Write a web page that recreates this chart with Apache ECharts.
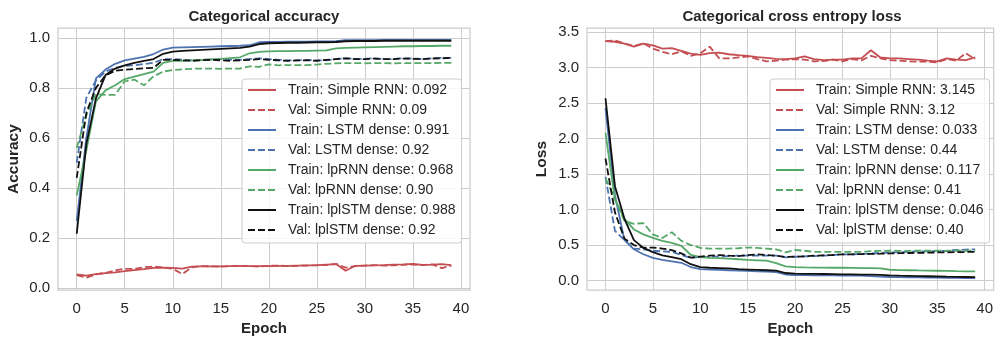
<!DOCTYPE html>
<html>
<head>
<meta charset="utf-8">
<script src="https://cdn.jsdelivr.net/npm/echarts@6/dist/echarts.min.js"></script>
<style>
  html, body { margin: 0; padding: 0; background: #fff; }
  #chart { width: 996px; height: 341px; }
</style>
</head>
<body>
<div id="chart"></div>
<script>
// epochs
var epochs = [0, 1, 2, 3, 4, 5, 6, 7, 8, 9, 10, 11, 12, 13, 14, 15, 16, 17, 18, 19,
  20, 21, 22, 23, 24, 25, 26, 27, 28, 29, 30, 31, 32, 33, 34, 35, 36, 37, 38, 39]

var xTicks = [0, 5, 10, 15, 20, 25, 30, 35, 40]
var accTicks = [0, 0.2, 0.4, 0.6, 0.8, 1.0]
var lossTicks = [0, 0.5, 1.0, 1.5, 2.0, 2.5, 3.0, 3.5]

var accNames = ['Train: Simple RNN: 0.092', 'Val: Simple RNN: 0.09', 'Train: LSTM dense: 0.991', 'Val: LSTM dense: 0.92',
  'Train: lpRNN dense: 0.968', 'Val: lpRNN dense: 0.90', 'Train: lplSTM dense: 0.988', 'Val: lplSTM dense: 0.92']
var lossNames = ['Train: Simple RNN: 3.145', 'Val: Simple RNN: 3.12', 'Train: LSTM dense: 0.033', 'Val: LSTM dense: 0.44',
  'Train: lpRNN dense: 0.117', 'Val: lpRNN dense: 0.41', 'Train: lplSTM dense: 0.046', 'Val: lplSTM dense: 0.40']

// accuracy
var trainRnnAcc = [.055, .050, .056, .060, .063, .068, .072, .076, .081, .082, .081, .078, .086, .087, .087, .087, .088, .088, .088, .088,
  .088, .089, .089, .090, .091, .092, .094, .096, .069, .089, .090, .091, .092, .094, .095, .097, .093, .094, .096, .092]
var valRnnAcc = [.052, .042, .055, .061, .071, .077, .077, .083, .086, .082, .077, .056, .083, .088, .087, .086, .088, .089, .088, .086,
  .089, .090, .088, .089, .090, .091, .092, .097, .082, .088, .090, .092, .090, .091, .093, .094, .092, .095, .080, .090]
var trainLstmAcc = [.268, .60, .838, .873, .896, .910, .917, .924, .935, .953, .961, .962, .963, .964, .965, .966, .967, .968, .970, .982,
  .983, .983, .984, .984, .984, .985, .985, .986, .990, .990, .990, .990, .991, .991, .991, .991, .991, .991, .991, .991]
var valLstmAcc = [.50, .76, .83, .865, .88, .888, .89, .895, .90, .915, .915, .912, .91, .912, .913, .915, .913, .912, .915, .918,
  .915, .912, .91, .91, .912, .91, .91, .915, .918, .916, .916, .918, .915, .915, .918, .917, .915, .918, .92, .92]
var trainLprnnAcc = [.37, .55, .746, .79, .81, .835, .845, .855, .865, .900, .908, .908, .910, .912, .914, .916, .919, .922, .938, .944,
  .946, .947, .947, .948, .948, .949, .950, .958, .960, .961, .962, .963, .964, .965, .966, .966, .967, .967, .968, .968]
var valLprnnAcc = [.56, .69, .775, .772, .772, .826, .833, .81, .846, .865, .871, .874, .876, .877, .877, .876, .877, .877, .886, .884,
  .894, .890, .891, .891, .891, .893, .896, .898, .899, .899, .898, .899, .899, .898, .899, .899, .899, .899, .900, .900]
var trainLplstmAcc = [.217, .575, .758, .851, .877, .890, .900, .908, .915, .936, .945, .948, .950, .952, .954, .956, .958, .960, .965, .975,
  .978, .979, .980, .980, .981, .982, .982, .983, .986, .987, .987, .987, .988, .988, .988, .988, .988, .988, .988, .988]
var valLplstmAcc = [.44, .70, .80, .85, .868, .872, .875, .878, .88, .912, .912, .91, .908, .91, .912, .91, .908, .91, .912, .915,
  .912, .91, .908, .91, .91, .908, .912, .915, .918, .915, .915, .917, .915, .915, .917, .916, .915, .917, .918, .92]

// loss
var trainRnnLoss = [3.375, 3.366, 3.34, 3.296, 3.34, 3.315, 3.27, 3.275, 3.237, 3.20, 3.18, 3.205, 3.214, 3.19, 3.177, 3.168, 3.15, 3.14, 3.126, 3.122,
  3.131, 3.159, 3.122, 3.108, 3.113, 3.113, 3.131, 3.131, 3.246, 3.145, 3.131, 3.131, 3.122, 3.113, 3.099, 3.09, 3.131, 3.113, 3.108, 3.145]
var valRnnLoss = [3.375, 3.384, 3.343, 3.306, 3.343, 3.269, 3.223, 3.191, 3.232, 3.168, 3.204, 3.297, 3.131, 3.131, 3.145, 3.159, 3.122, 3.090, 3.099, 3.113,
  3.122, 3.113, 3.090, 3.094, 3.113, 3.090, 3.122, 3.104, 3.168, 3.131, 3.108, 3.099, 3.090, 3.085, 3.085, 3.076, 3.122, 3.099, 3.204, 3.122]
var trainLstmLoss = [2.43, 1.20, 0.57, 0.44, 0.37, 0.32, 0.29, 0.27, 0.25, 0.19, 0.16, 0.155, 0.15, 0.145, 0.14, 0.135, 0.13, 0.125, 0.12, 0.085,
  0.078, 0.076, 0.074, 0.073, 0.072, 0.071, 0.07, 0.068, 0.062, 0.055, 0.05, 0.048, 0.046, 0.044, 0.042, 0.04, 0.038, 0.036, 0.035, 0.033]
var valLstmLoss = [1.46, 0.70, 0.57, 0.45, 0.44, 0.42, 0.41, 0.405, 0.36, 0.32, 0.33, 0.335, 0.34, 0.345, 0.35, 0.35, 0.35, 0.35, 0.352, 0.326,
  0.335, 0.34, 0.345, 0.35, 0.36, 0.368, 0.37, 0.375, 0.38, 0.39, 0.396, 0.40, 0.405, 0.41, 0.412, 0.414, 0.42, 0.43, 0.436, 0.44]
var trainLprnnLoss = [2.08, 1.14, 0.87, 0.72, 0.65, 0.60, 0.56, 0.53, 0.49, 0.36, 0.33, 0.32, 0.315, 0.31, 0.30, 0.29, 0.285, 0.28, 0.245, 0.20,
  0.19, 0.185, 0.183, 0.182, 0.18, 0.18, 0.178, 0.176, 0.175, 0.17, 0.152, 0.148, 0.145, 0.142, 0.14, 0.138, 0.135, 0.132, 0.13, 0.128]
var valLprnnLoss = [1.44, 1.15, 0.84, 0.80, 0.81, 0.65, 0.60, 0.68, 0.56, 0.50, 0.46, 0.45, 0.45, 0.45, 0.455, 0.465, 0.46, 0.45, 0.44, 0.396,
  0.43, 0.42, 0.405, 0.405, 0.405, 0.405, 0.405, 0.405, 0.415, 0.418, 0.42, 0.419, 0.419, 0.42, 0.42, 0.42, 0.419, 0.42, 0.42, 0.42]
var trainLplstmLoss = [2.57, 1.33, 0.87, 0.57, 0.46, 0.40, 0.355, 0.33, 0.30, 0.23, 0.19, 0.18, 0.175, 0.17, 0.16, 0.155, 0.15, 0.145, 0.14, 0.106,
  0.097, 0.095, 0.093, 0.092, 0.09, 0.088, 0.086, 0.084, 0.082, 0.08, 0.072, 0.068, 0.065, 0.062, 0.06, 0.057, 0.054, 0.052, 0.05, 0.048]
var valLplstmLoss = [1.72, 0.96, 0.59, 0.50, 0.465, 0.465, 0.451, 0.428, 0.382, 0.322, 0.336, 0.35, 0.359, 0.35, 0.345, 0.359, 0.368, 0.359, 0.35, 0.331,
  0.336, 0.34, 0.35, 0.355, 0.36, 0.368, 0.37, 0.372, 0.375, 0.378, 0.382, 0.385, 0.388, 0.39, 0.392, 0.396, 0.398, 0.4, 0.402, 0.405]

var colors = ['#C44E52', '#C44E52', '#4C72B0', '#4C72B0', '#55A868', '#55A868', '#111111', '#111111']
var FONT = '"Liberation Sans", Arial, sans-serif'
var TXT = '#262626'
var GRID = '#cccccc'

var chart = echarts.init(document.getElementById('chart'), null, { renderer: 'canvas' })

function makeSeries(names, lists, idx) {
  return lists.map(function (vals, i) {
    return {
      name: names[i],
      type: 'line',
      xAxisIndex: idx,
      yAxisIndex: idx,
      symbol: 'none',
      color: colors[i],
      lineStyle: { width: 1.8, color: colors[i], type: i % 2 ? [7, 3] : 'solid' },
      data: vals.map(function (v, k) { return [epochs[k], v] })
    }
  })
}

function xAxis(idx) {
  return {
    type: 'value', gridIndex: idx, min: -1.95, max: 40.95,
    name: 'Epoch', nameLocation: 'middle', nameGap: 30,
    nameTextStyle: { fontFamily: FONT, fontSize: 15, fontWeight: 'bold', color: TXT },
    axisLine: { show: false },
    axisTick: { show: false, customValues: xTicks },
    axisLabel: { customValues: xTicks, fontFamily: FONT, fontSize: 15, color: TXT, margin: 11 },
    splitLine: { show: true, lineStyle: { color: GRID, width: 1 } }
  }
}

function yAxis(idx, name, min, max, ticks, gap) {
  return {
    type: 'value', gridIndex: idx, min: min, max: max,
    name: name, nameLocation: 'middle', nameGap: gap,
    nameTextStyle: { fontFamily: FONT, fontSize: 15.5, fontWeight: 'bold', color: TXT },
    axisLine: { show: false },
    axisTick: { show: false, customValues: ticks },
    axisLabel: {
      customValues: ticks, fontFamily: FONT, fontSize: 15, color: TXT, margin: 8,
      formatter: function (v) { return v.toFixed(1) }
    },
    splitLine: { show: true, lineStyle: { color: GRID, width: 1 } }
  }
}

function legend(names, left) {
  return {
    data: names, orient: 'vertical', left: left, top: 79,
    itemWidth: 28, itemHeight: 14, itemGap: 6,
    selectedMode: false,
    itemStyle: { opacity: 0, borderWidth: 0 },
    textStyle: { fontFamily: FONT, fontSize: 14, color: TXT, padding: [0, 0, 0, 7] },
    backgroundColor: 'rgba(255,255,255,0.8)', borderColor: GRID, borderWidth: 1, borderRadius: 3,
    padding: [4, 6, 6, 5]
  }
}

chart.setOption({
  animation: false,
  backgroundColor: '#fff',
  title: [
    { text: 'Categorical accuracy', left: 264, top: 9, textAlign: 'center', padding: 0,
      textStyle: { fontFamily: FONT, fontSize: 15, fontWeight: 'bold', color: TXT } },
    { text: 'Categorical cross entropy loss', left: 792, top: 9, textAlign: 'center', padding: 0,
      textStyle: { fontFamily: FONT, fontSize: 15, fontWeight: 'bold', color: TXT } }
  ],
  grid: [
    { left: 58, top: 28, width: 412, height: 267, show: true, borderColor: GRID, borderWidth: 1.25, containLabel: false },
    { left: 587, top: 28, width: 411, height: 267, show: true, borderColor: GRID, borderWidth: 1.25, containLabel: false }
  ],
  xAxis: [xAxis(0), xAxis(1)],
  yAxis: [
    yAxis(0, 'Accuracy', -0.008, 1.039, accTicks, 36),
    yAxis(1, 'Loss', -0.135, 3.56, lossTicks, 37)
  ],
  legend: [legend(accNames, 242), legend(lossNames, 770)],
  series: makeSeries(accNames, [trainRnnAcc, valRnnAcc, trainLstmAcc, valLstmAcc,
    trainLprnnAcc, valLprnnAcc, trainLplstmAcc, valLplstmAcc], 0)
    .concat(makeSeries(lossNames, [trainRnnLoss, valRnnLoss, trainLstmLoss, valLstmLoss,
      trainLprnnLoss, valLprnnLoss, trainLplstmLoss, valLplstmLoss], 1))
})
</script>
</body>
</html>
